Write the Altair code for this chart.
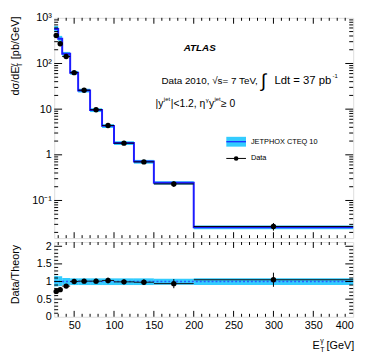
import altair as alt
import pandas as pd

# ---------------- data ----------------
edges = [25, 30, 35, 45, 55, 70, 85, 100, 125, 150, 200, 400]
centers = [27.5, 32.5, 40, 50, 62.5, 77.5, 92.5, 112.5, 137.5, 175, 300]
data_xsec = [410, 270, 142, 63, 26, 9.7, 4.4, 1.8, 0.70, 0.23, 0.027]
theory_xsec = [570, 350, 163, 63, 25.7, 9.6, 4.3, 1.82, 0.71, 0.245, 0.026]
theory_up = [0.16, 0.15, 0.10, 0.09, 0.09, 0.09, 0.09, 0.09, 0.09, 0.08, 0.09]
theory_dn = [0.14, 0.13, 0.10, 0.10, 0.10, 0.10, 0.10, 0.10, 0.10, 0.09, 0.10]
ratio = [0.72, 0.77, 0.87, 1.00, 1.01, 1.01, 1.03, 0.99, 0.98, 0.94, 1.05]
ratio_err = [0.04, 0.04, 0.05, 0.06, 0.06, 0.07, 0.08, 0.07, 0.08, 0.13, 0.20]

x_labels = [50, 100, 150, 200, 250, 300, 350, 400]
x_major = [50, 100, 150, 200, 250, 300, 350]
x_minor = [v for v in range(30, 400, 10) if v % 50 != 0]
top_y_labels = [0.1, 1, 10, 100, 1000]
top_y_major = [0.1, 1, 10, 100]
top_y_minor = [k * 10.0 ** e for e in range(-2, 3) for k in range(2, 10) if k * 10.0 ** e >= 0.015]
low_y_labels = [0, 0.5, 1, 1.5, 2]
low_y_major = [0.5, 1, 1.5, 2]
low_y_minor = [round(i / 10, 1) for i in range(1, 21) if i % 5 != 0]

# ---------------- tables ----------------
bins = pd.DataFrame({
    "lo": edges[:-1], "hi": edges[1:], "c": centers,
    "d": data_xsec, "t": theory_xsec,
    "tlo": [t * (1 - dn) for t, dn in zip(theory_xsec, theory_dn)],
    "thi": [t * (1 + up) for t, up in zip(theory_xsec, theory_up)],
    "dlo": [d * (1 - e / r) for d, e, r in zip(data_xsec, ratio_err, ratio)],
    "dhi": [d * (1 + e / r) for d, e, r in zip(data_xsec, ratio_err, ratio)],
    "r": ratio,
    "rlo": [r - e for r, e in zip(ratio, ratio_err)],
    "rhi": [r + e for r, e in zip(ratio, ratio_err)],
    "blo": [1 - dn for dn in theory_dn],
    "bhi": [1 + up for up in theory_up],
})
step = pd.DataFrame({"x": edges, "y": theory_xsec + theory_xsec[-1:]})
one = pd.DataFrame({"v": [1.0]})
dummy = pd.DataFrame({"a": [0]})

W, HT, HB = 304, 224, 76
FONT = "Liberation Sans"
BAND = "#33ccff"
BLUE = "#1c1cff"

xscale = alt.Scale(domain=[25, 400], nice=False, zero=False)
tscale = alt.Scale(type="log", domain=[0.015, 1000], nice=False)
lscale = alt.Scale(domain=[0, 2.12], nice=False, zero=False)

ax_top_x = alt.Axis(labels=False, ticks=False, domain=False, grid=False, title=None)
ax_low_x = alt.Axis(values=x_labels, ticks=False, domain=False, grid=False, title=None,
                    labelFontSize=11, labelFont=FONT, labelColor="black", labelPadding=3,
                    labelFlush=True)
ax_top_y = alt.Axis(values=top_y_labels, ticks=False, domain=False, grid=False, title=None,
                    labelFontSize=11, labelFont=FONT, labelColor="black", labelPadding=3,
                    labelExpr="datum.value < 0.5 ? '10\u207b\u00b9' : datum.value < 5 ? '1' : "
                              "datum.value < 50 ? '10' : datum.value < 500 ? '10\u00b2' : '10\u00b3'")
ax_low_y = alt.Axis(values=low_y_labels, ticks=False, domain=False, grid=False, title=None,
                    labelFontSize=11, labelFont=FONT, labelColor="black", labelPadding=3,
                    format="~g")


def XT(f):
    return alt.X(f, type="quantitative", scale=xscale, axis=ax_top_x)


def XL(f):
    return alt.X(f, type="quantitative", scale=xscale, axis=ax_low_x)


def YT(f):
    return alt.Y(f, type="quantitative", scale=tscale, axis=ax_top_y)


def YL(f):
    return alt.Y(f, type="quantitative", scale=lscale, axis=ax_low_y)


def frame_ticks(X, Y, ymaj, ymin, H, ylen_maj=8, ylen_min=4, xlen_maj=6, xlen_min=3):
    layers = []
    for vals, ln in ((ymaj, ylen_maj), (ymin, ylen_min)):
        df = pd.DataFrame({"v": vals})
        layers.append(alt.Chart(df).mark_rule(color="black", strokeWidth=1).encode(
            y=Y("v"), x=alt.value(0), x2=alt.value(ln)))
        layers.append(alt.Chart(df).mark_rule(color="black", strokeWidth=1).encode(
            y=Y("v"), x=alt.value(W - ln), x2=alt.value(W)))
    for vals, ln in ((x_major, xlen_maj), (x_minor, xlen_min)):
        df = pd.DataFrame({"v": vals})
        layers.append(alt.Chart(df).mark_rule(color="black", strokeWidth=1).encode(
            x=X("v"), y=alt.value(0), y2=alt.value(ln)))
        layers.append(alt.Chart(df).mark_rule(color="black", strokeWidth=1).encode(
            x=X("v"), y=alt.value(H - ln), y2=alt.value(H)))
    return layers


def txt(text, x, y, size=10, align="left", baseline="middle", angle=0, weight="normal",
        style="normal", color="black"):
    return alt.Chart(dummy).mark_text(
        text=text, font=FONT, fontSize=size, align=align, baseline=baseline, angle=angle,
        fontWeight=weight, fontStyle=style, color=color).encode(x=alt.value(x), y=alt.value(y))


# ---------------- top panel ----------------
top_layers = [
    alt.Chart(bins).mark_rect(color=BAND).encode(x=XT("lo"), x2="hi", y=YT("tlo"), y2="thi"),
    alt.Chart(step).mark_line(color=BLUE, strokeWidth=2, interpolate="step-after").encode(
        x=XT("x"), y=YT("y")),
    alt.Chart(bins).mark_rule(color="black", strokeWidth=1).encode(x=XT("lo"), x2="hi", y=YT("d")),
    alt.Chart(bins).mark_rule(color="black", strokeWidth=1).encode(x=XT("c"), y=YT("dlo"), y2="dhi"),
    alt.Chart(bins).mark_circle(color="black", size=30, opacity=1).encode(x=XT("c"), y=YT("d")),
]
top_layers += frame_ticks(XT, YT, top_y_major, top_y_minor, HT)

# annotations (positions relative to the top plot area)
top_layers += [
    txt("ATLAS", 148, 31, size=10, align="center", weight="bold", style="italic"),
    txt("Data 2010, \u221as= 7 TeV,", 109, 64, size=10),
    txt("\u222b", 210, 64, size=19),
    txt("Ldt = 37 pb", 224, 64, size=11.5),
    txt("-1", 283, 59, size=6),
    txt("|y", 103, 88, size=10.5),
    txt("jet", 111.5, 83, size=6),
    txt("|<1.2, \u03b7", 118.5, 88, size=10.5),
    txt("\u03b3", 154, 84, size=6),
    txt("y", 157.5, 88, size=10.5),
    txt("jet", 163, 83, size=6),
    txt(" \u2265 0", 169.5, 88, size=10.5),
    # legend
    alt.Chart(dummy).mark_rect(color=BAND).encode(
        x=alt.value(175), x2=alt.value(195), y=alt.value(121), y2=alt.value(131)),
    alt.Chart(dummy).mark_rule(color=BLUE, strokeWidth=1.2).encode(
        x=alt.value(175), x2=alt.value(195), y=alt.value(126)),
    txt("JETPHOX CTEQ 10", 200, 126, size=7.5),
    alt.Chart(dummy).mark_rule(color="black", strokeWidth=1).encode(
        x=alt.value(175), x2=alt.value(195), y=alt.value(143)),
    alt.Chart(dummy).mark_circle(color="black", size=22, opacity=1).encode(
        x=alt.value(185), y=alt.value(143)),
    txt("Data", 200, 143, size=7.5),
    # y title pieces (rotated)
    txt("d\u03c3/dE", -39, 79, size=11, angle=270),
    txt("\u03b3", -42, 50, size=7, angle=270),
    txt("T", -35, 50, size=7, angle=270),
    txt("[pb/GeV]", -39, 42, size=11, angle=270),
]

top = alt.layer(*top_layers).properties(width=W, height=HT)

# ---------------- bottom panel ----------------
low_layers = [
    alt.Chart(bins).mark_rect(color=BAND).encode(x=XL("lo"), x2="hi", y=YL("blo"), y2="bhi"),
    alt.Chart(one).mark_rule(color="#2a5cff", strokeWidth=1.5, strokeDash=[2, 2]).encode(
        y=YL("v"), x=alt.value(0), x2=alt.value(W)),
    alt.Chart(bins).mark_rule(color="#111111", strokeWidth=1).encode(x=XL("lo"), x2="hi", y=YL("r")),
    alt.Chart(bins).mark_rule(color="black", strokeWidth=1).encode(x=XL("c"), y=YL("rlo"), y2="rhi"),
    alt.Chart(bins).mark_circle(color="black", size=30, opacity=1).encode(x=XL("c"), y=YL("r")),
]
low_layers += frame_ticks(XL, YL, low_y_major, low_y_minor, HB)
low_layers += [
    txt("Data/Theory", -39, 33, size=11, align="center", angle=270),
    txt("E", 270, 106, size=11, align="right"),
    txt("\u03b3", 270.5, 101, size=7),
    txt("T", 270.5, 110, size=7),
    txt(" [GeV]", 305, 106, size=11, align="right"),
]

low = alt.layer(*low_layers).properties(width=W, height=HB)

chart = alt.vconcat(top, low, spacing=0).properties(
    padding={"left": 0, "top": 0, "right": 5, "bottom": 5}
).configure_view(stroke="black", strokeWidth=1).configure(background="white")

chart.save("out.html", embed_options={"renderer": "svg", "actions": False})
